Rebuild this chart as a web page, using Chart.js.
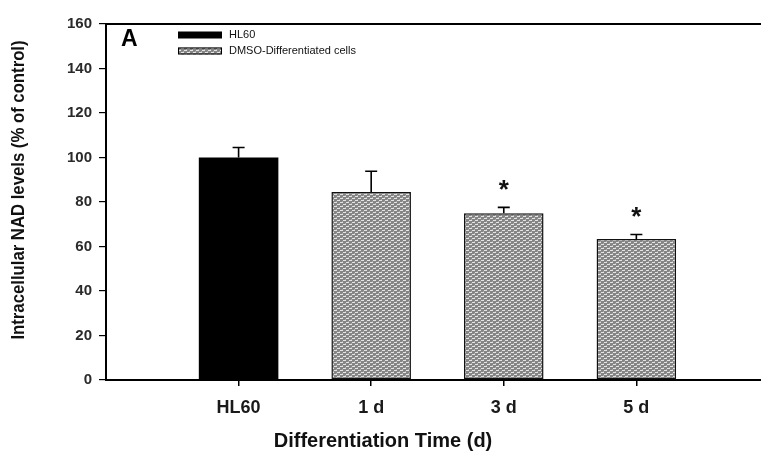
<!DOCTYPE html>
<html>
<head>
<meta charset="utf-8">
<script src="https://cdn.jsdelivr.net/npm/chart.js@4.4.1/dist/chart.umd.min.js"></script>
<style>
html,body{margin:0;padding:0;background:#fff;}
#wrap{width:761px;height:458px;position:relative;}
</style>
</head>
<body>
<div id="wrap"><canvas id="c" width="761" height="458"></canvas></div>
<script>
// ---- data ----
const categories = ['HL60', '1 d', '3 d', '5 d'];
const hl60Values = [100];
const hl60Errors = [4.5];
const dmsoValues = [84.5, 75, 63.4];
const dmsoErrors = [9.3, 2.6, 2.0];
const dmsoSignificant = [false, true, true];
const yTicks = [0, 20, 40, 60, 80, 100, 120, 140, 160];
const seriesLabels = ['HL60', 'DMSO-Differentiated cells'];
const panelLetter = 'A';
const xTitle = 'Differentiation Time (d)';
const yTitle = 'Intracellular NAD levels (% of control)';

// ---- pattern ----
function makePattern() {
  const t = document.createElement('canvas');
  t.width = 6; t.height = 4;
  const g = t.getContext('2d');
  g.fillStyle = '#858585';
  g.fillRect(0, 0, 6, 4);
  g.fillStyle = '#e4e4e4';
  g.fillRect(1, 0, 3, 1);
  g.fillRect(4, 2, 2, 1);
  g.fillRect(0, 2, 1, 1);
  g.fillStyle = '#ababab';
  g.fillRect(0, 1, 1, 1);
  g.fillRect(3, 3, 1, 1);
  return document.getElementById('c').getContext('2d').createPattern(t, 'repeat');
}
const pat = makePattern();

const hl60Data = hl60Values.map((v, i) => ({x: i, y: v}));
const dmsoData = dmsoValues.map((v, i) => ({x: i + hl60Values.length, y: v}));
const errMap = [hl60Errors, dmsoErrors];
const sigMap = [[false], dmsoSignificant];

const extras = {
  id: 'extras',
  afterDatasetsDraw(chart) {
    const ctx = chart.ctx;
    const ys = chart.scales.y;
    const ca = chart.chartArea;
    ctx.save();
    // error bars & asterisks
    chart.data.datasets.forEach((ds, di) => {
      const meta = chart.getDatasetMeta(di);
      meta.data.forEach((el, i) => {
        const v = ds.data[i].y;
        const e = errMap[di][i];
        const yt = ys.getPixelForValue(v + e);
        const yb = ys.getPixelForValue(v);
        ctx.strokeStyle = '#000';
        ctx.lineWidth = 1.6;
        ctx.beginPath();
        ctx.moveTo(el.x, yb);
        ctx.lineTo(el.x, yt);
        ctx.moveTo(el.x - 6, yt);
        ctx.lineTo(el.x + 6, yt);
        ctx.stroke();
        if (sigMap[di][i]) {
          ctx.fillStyle = '#111';
          ctx.font = 'bold 26px "Liberation Sans", Arial, sans-serif';
          ctx.textAlign = 'center';
          ctx.textBaseline = 'middle';
          ctx.fillText('*', el.x, yt - 17);
        }
      });
    });
    // top frame line
    ctx.strokeStyle = '#000';
    ctx.lineWidth = 2;
    ctx.beginPath();
    ctx.moveTo(ca.left - 1, ca.top);
    ctx.lineTo(chart.width, ca.top);
    ctx.stroke();
    // panel letter
    ctx.fillStyle = '#000';
    ctx.font = 'bold 23px "Liberation Sans", Arial, sans-serif';
    ctx.textAlign = 'left';
    ctx.textBaseline = 'middle';
    ctx.fillText(panelLetter, 121, 40);
    // legend
    const lx = 178, lw = 44, lh = 7;
    const rows = [35, 51];
    chart.data.datasets.forEach((ds, di) => {
      const cy = rows[di];
      ctx.fillStyle = ds.backgroundColor;
      ctx.fillRect(lx, cy - lh / 2, lw, lh);
      if (ds.borderWidth) {
        ctx.strokeStyle = '#000';
        ctx.lineWidth = 1;
        ctx.strokeRect(lx + 0.5, cy - lh / 2 + 0.5, lw - 1, lh - 1);
      }
      ctx.fillStyle = '#111';
      ctx.font = '11px "Liberation Sans", Arial, sans-serif';
      ctx.textBaseline = 'middle';
      ctx.fillText(ds.label, 229, cy);
    });
    // x title
    ctx.fillStyle = '#111';
    ctx.font = 'bold 20px "Liberation Sans", Arial, sans-serif';
    ctx.textAlign = 'center';
    ctx.fillText(xTitle, 383, 441);
    // y title (condensed)
    ctx.translate(19, 190);
    ctx.rotate(-Math.PI / 2);
    ctx.scale(0.88, 1);
    ctx.font = 'bold 19px "Liberation Sans", Arial, sans-serif';
    ctx.fillText(yTitle, 0, 0);
    ctx.restore();
  }
};

new Chart(document.getElementById('c'), {
  type: 'bar',
  data: {
    datasets: [
      {label: seriesLabels[0], data: hl60Data, backgroundColor: '#000', borderWidth: 0},
      {label: seriesLabels[1], data: dmsoData, backgroundColor: pat, borderColor: '#111', borderWidth: 1.5, borderSkipped: false}
    ]
  },
  options: {
    responsive: false,
    animation: false,
    events: [],
    layout: {padding: {top: 24, right: 0, left: 0, bottom: 0}},
    plugins: {legend: {display: false}, tooltip: {enabled: false}},
    datasets: {bar: {grouped: false, categoryPercentage: 1, barPercentage: 0.6}},
    scales: {
      x: {
        type: 'linear',
        offset: false,
        min: -1, max: 3.94,
        afterBuildTicks(s) { s.ticks = categories.map((c, i) => ({value: i})); },
        afterFit(s) { s.height = 78; },
        grid: {display: true, offset: false, drawOnChartArea: false, drawTicks: true, tickLength: 6, color: '#000', lineWidth: 1.5},
        border: {display: true, color: '#000', width: 2},
        ticks: {
          callback: (v) => categories[v] ?? '',
          color: '#1a1a1a',
          font: {family: '"Liberation Sans", Arial, sans-serif', size: 18, weight: 'bold'},
          padding: 11,
          maxRotation: 0,
          autoSkip: false
        }
      },
      y: {
        min: 0, max: 160,
        afterBuildTicks(s) { s.ticks = yTicks.map(v => ({value: v})); },
        afterFit(s) { s.width = 106; },
        grid: {display: true, drawOnChartArea: false, drawTicks: true, tickLength: 7, color: '#000', lineWidth: 1.2},
        border: {display: true, color: '#000', width: 2},
        ticks: {
          color: '#2a2a2a',
          font: {family: '"Liberation Sans", Arial, sans-serif', size: 15, weight: 'bold'},
          padding: 7
        }
      }
    }
  },
  plugins: [extras]
});
</script>
</body>
</html>
